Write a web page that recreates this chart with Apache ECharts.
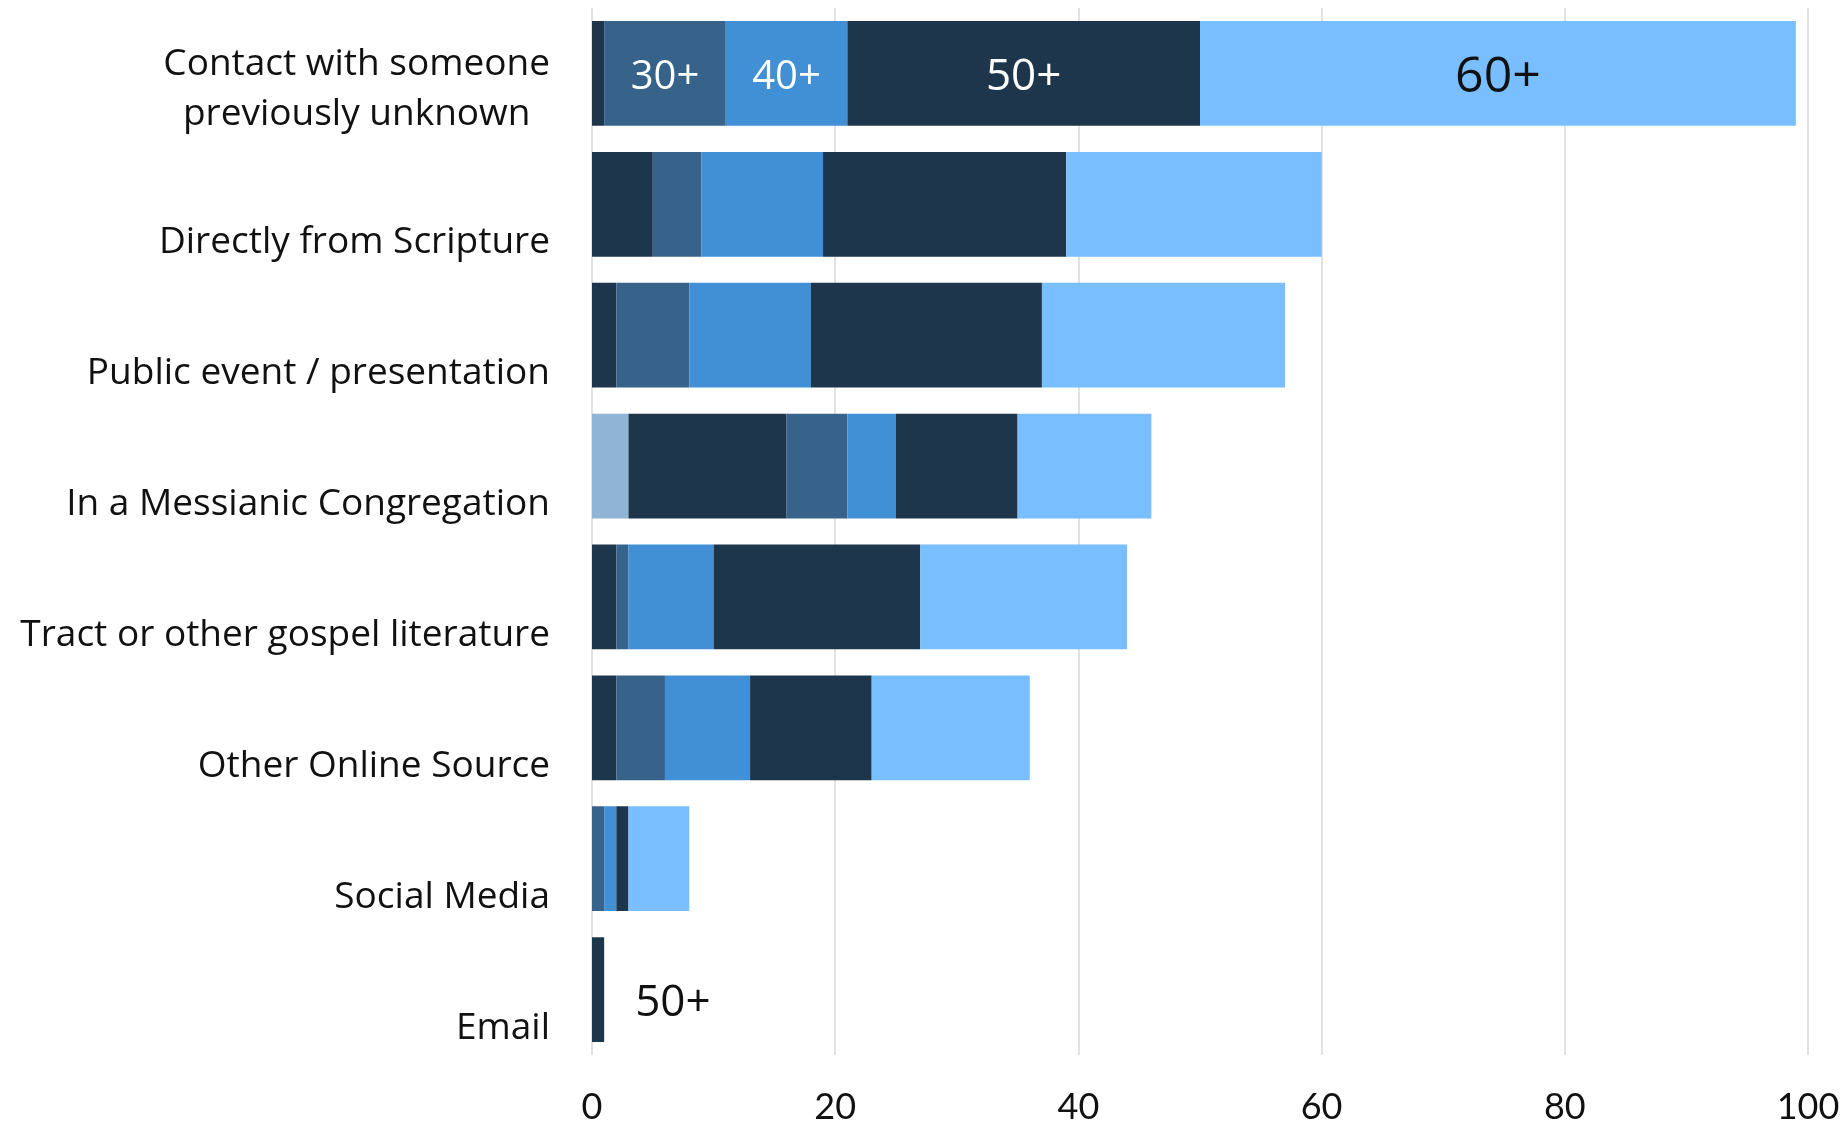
<!DOCTYPE html>
<html>
<head>
<meta charset="utf-8">
<script src="https://cdn.jsdelivr.net/npm/echarts@6/dist/echarts.min.js"></script>
<style>
  html, body { margin: 0; padding: 0; background: #ffffff; }
  #chart { width: 1847px; height: 1126px; }
</style>
</head>
<body>
<div id="chart"></div>
<script>
// Sources through which respondents first heard, split by age group
const categories = [
  'Contact with someone\npreviously unknown',
  'Directly from Scripture',
  'Public event / presentation',
  'In a Messianic Congregation',
  'Tract or other gospel literature',
  'Other Online Source',
  'Social Media',
  'Email'
];
const ageGroups = ['<20', '20+', '30+', '40+', '50+', '60+'];
const under20 = [0, 0, 0, 3, 0, 0, 0, 0];
const age20 = [1, 5, 2, 13, 2, 2, 0, 0];
const age30 = [10, 4, 6, 5, 1, 4, 1, 0];
const age40 = [10, 10, 10, 4, 7, 7, 1, 0];
const age50 = [29, 20, 19, 10, 17, 10, 1, 1];
const age60 = [49, 21, 20, 11, 17, 13, 5, 0];
const xTicks = [0, 20, 40, 60, 80, 100];

const FONT = '"Open Sans"';
const TICK_FONT = 'Lato';
const colors = ['#8fb4d6', '#1e364c', '#37638b', '#418fd4', '#1e364c', '#79befe'];

// bars that carry their age-group name as a label
const labelled = {
  '30+': { 0: { show: true, position: 'inside', offset: [0, 4], color: '#ffffff', fontSize: 40 } },
  '40+': { 0: { show: true, position: 'inside', offset: [0, 4], color: '#ffffff', fontSize: 40 } },
  '50+': {
    0: { show: true, position: 'inside', offset: [0, 4], color: '#ffffff', fontSize: 44 },
    7: { show: true, position: 'right', distance: 31, offset: [0, 14], color: '#111111', fontSize: 44 }
  },
  '60+': { 0: { show: true, position: 'inside', offset: [0, 4], color: '#111111', fontSize: 50 } }
};

const seriesValues = [under20, age20, age30, age40, age50, age60];

const series = ageGroups.map(function (name, si) {
  const lab = labelled[name] || {};
  return {
    name: name,
    type: 'bar',
    stack: 'total',
    barCategoryGap: '20%',
    itemStyle: { color: colors[si] },
    emphasis: { disabled: true },
    data: seriesValues[si].map(function (v, i) {
      if (lab[i]) {
        return {
          value: v,
          label: Object.assign({ formatter: name, fontFamily: FONT }, lab[i])
        };
      }
      return v;
    })
  };
});

const yData = categories.map(function (c) {
  const multi = c.indexOf('\n') >= 0;
  return {
    value: c,
    textStyle: { padding: multi ? [33, 0, 0, 0] : [77, 0, 0, 0] }
  };
});

const chart = echarts.init(document.getElementById('chart'), null, { renderer: 'canvas' });
chart.setOption({
  backgroundColor: '#ffffff',
  animation: false,
  grid: { left: 592, right: 39, top: 8, bottom: 71, containLabel: false },
  xAxis: {
    type: 'value',
    min: xTicks[0],
    max: xTicks[xTicks.length - 1],
    interval: xTicks[1] - xTicks[0],
    axisLine: { show: false },
    axisTick: { show: false },
    splitLine: { show: true, lineStyle: { color: '#d9d9d9', width: 1.5 } },
    axisLabel: { color: '#111111', fontSize: 36, fontFamily: TICK_FONT, margin: 34 }
  },
  yAxis: {
    type: 'category',
    inverse: true,
    data: yData,
    axisLine: { show: false },
    axisTick: { show: false },
    axisLabel: {
      margin: 42,
      fontSize: 37,
      fontFamily: FONT,
      color: '#111111',
      lineHeight: 50,
      formatter: function (v) {
        return v.split('\n').map(function (s) { return '{c|' + s + '}'; }).join('\n');
      },
      rich: {
        c: { align: 'center', fontSize: 37, fontFamily: FONT, color: '#111111', lineHeight: 50 }
      }
    }
  },
  series: series
});
</script>
</body>
</html>
